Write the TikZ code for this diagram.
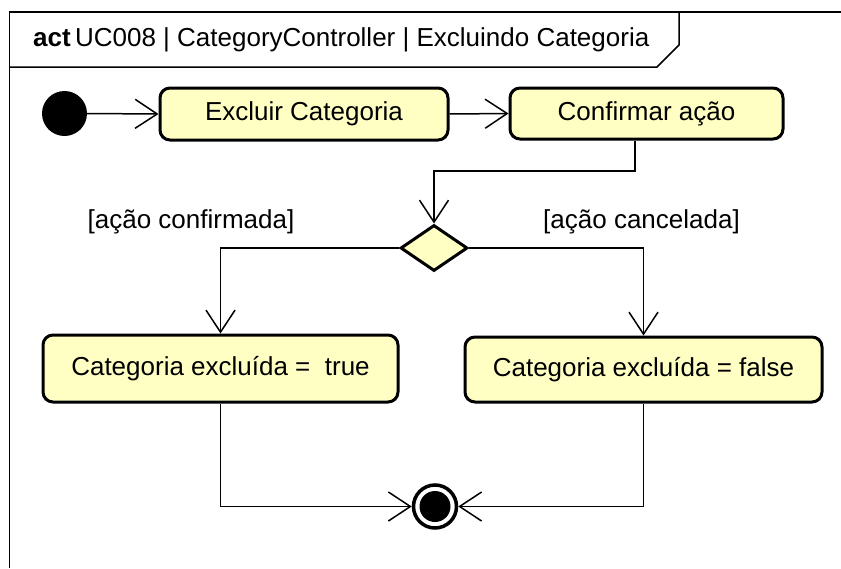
\documentclass[tikz,border=0pt]{standalone}
\usepackage{fontspec}
\setmainfont{Liberation Sans}
\usetikzlibrary{
  arrows.meta,
  positioning,
  shapes.geometric
}
\definecolor{actfill}{RGB}{255,255,196}

\begin{document}
\begin{tikzpicture}[
  x=1pt, y=-1pt,
  every node/.style={font=\fontsize{26}{30}\selectfont},
  >={Straight Barb[length=22pt, width=29pt]},
  action/.style={draw, line width=3pt, fill=actfill, rounded corners=10pt,
                 inner sep=0pt},
  decision/.style={draw, line width=3pt, fill=actfill, diamond, inner sep=0pt,
                   minimum width=67pt, minimum height=46pt},
  flow/.style={->, line width=1.5pt},
  guard/.style={inner sep=0pt}
]
\useasboundingbox (0,0) rectangle (841,568);

% Frame and title tab
\draw[line width=1.5pt] (841,12) -- (9.5,12) -- (9.5,568);
\draw[line width=1.5pt] (9.5,67) -- (657,67) -- (679,45) -- (679,12);
\node[anchor=west, inner sep=0pt, font=\fontsize{26}{30}\selectfont]
  (title) at (33,40)
  {\textbf{act}\,UC008 | CategoryController | Excluindo Categoria};

% Start
\node[circle, fill=black, minimum size=45pt, inner sep=0pt] (start) at (64.5,113.5) {};

% Actions
\node[action, minimum width=288pt, minimum height=52pt] (excluir) at (304,114)
  {Excluir Categoria};
\node[action, minimum width=273pt, minimum height=51pt] (confirm) at (646.5,113.5)
  {Confirmar ação};
\node[decision] (dec) at (434,248) {};
\node[action, minimum width=355pt, minimum height=67pt] (truebox) at (220.5,368.5)
  {Categoria excluída = \ true};
\node[action, minimum width=357pt, minimum height=65pt] (falsebox) at (643.5,369.5)
  {Categoria excluída = false};

% End
\node[circle, draw, line width=3.5pt, fill=white, minimum size=43pt, inner sep=0pt]
  (final) at (435,506.5) {};
\node[circle, fill=black, minimum size=31pt, inner sep=0pt] (finaldot) at (final.center) {};

% Guards
\node[guard] (gyes) at (191,222) {[ação confirmada]};
\node[guard] (gno) at (641.5,222) {[ação cancelada]};

% Flows
\coordinate (bend) at (635,171);
\draw[flow] (start.east) -- (excluir.west);
\draw[flow] (excluir.east) -- (confirm.west);
\draw[flow] (confirm.south -| bend) -- (bend) -| (dec.north);
\draw[flow] (dec.west) -| (truebox.north);
\draw[flow] (dec.east) -| (falsebox.north);
\draw[flow] (truebox.south) |- (final.west);
\draw[flow] (falsebox.south) |- (final.east);

\end{tikzpicture}
\end{document}
